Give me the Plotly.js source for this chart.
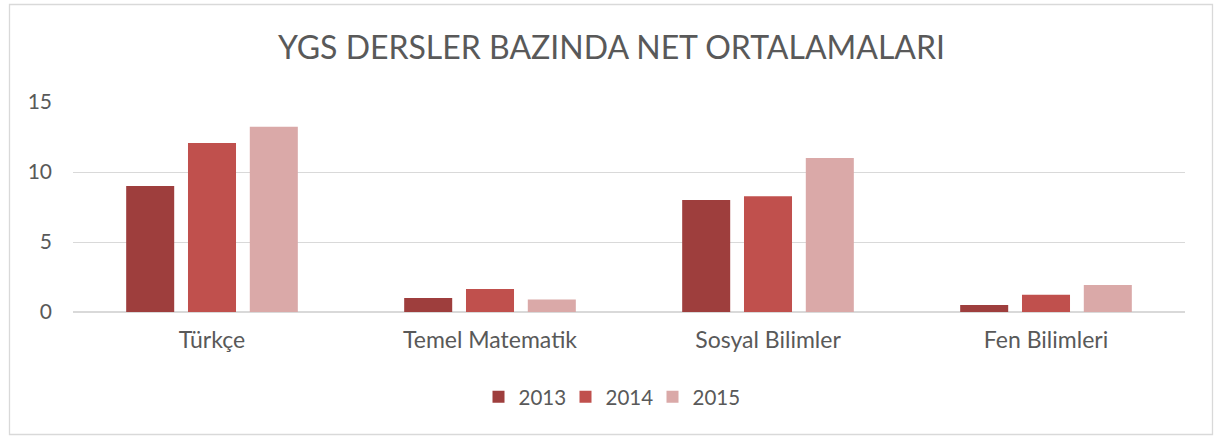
<!DOCTYPE html>
<html>
<head>
<meta charset="utf-8">
<script src="https://cdn.plot.ly/plotly-3.0.1.min.js"></script>
<style>
  html, body { margin: 0; padding: 0; background: #ffffff; }
  #chart { width: 1216px; height: 437px; }
</style>
</head>
<body>
<div id="chart"></div>
<script>
const categories = ["Türkçe", "Temel Matematik", "Sosyal Bilimler", "Fen Bilimleri"];
const seriesNames = ["2013", "2014", "2015"];
const values2013 = [9.0, 1.0, 8.0, 0.5];
const values2014 = [12.07, 1.64, 8.26, 1.24];
const values2015 = [13.24, 0.9, 11.0, 1.93];
const yTicks = [0, 5, 10, 15];

const colors = ["#9E3E3D", "#C0504D", "#DAA9A8"];
const fontFamily = "Lato, 'Open Sans', sans-serif";
const textColor = "#595959";

const W = 1216, H = 437;
const m = { l: 73, r: 31, t: 102, b: 125 };
const pw = W - m.l - m.r, ph = H - m.t - m.b;
function px2x(p) { return (p - m.l) / pw; }
function px2y(p) { return (H - m.b - p) / ph; }

const allValues = [values2013, values2014, values2015];
const traces = allValues.map((vals, i) => ({
  type: "bar",
  name: seriesNames[i],
  x: categories,
  y: vals,
  marker: { color: colors[i], line: { width: 0 } },
  hoverinfo: "x+y+name"
}));

const layout = {
  width: W,
  height: H,
  margin: { l: m.l, r: m.r, t: m.t, b: m.b, pad: 0 },
  paper_bgcolor: "#ffffff",
  plot_bgcolor: "#ffffff",
  font: { family: fontFamily, color: textColor, size: 21 },
  title: {
    text: "YGS DERSLER BAZINDA NET ORTALAMALARI",
    font: { family: fontFamily, size: 32, color: textColor },
    x: 611.5 / W, xref: "container", xanchor: "center",
    y: 1 - 48 / H, yref: "container", yanchor: "middle"
  },
  barmode: "group",
  bargap: 0.333,
  bargroupgap: 0.223,
  xaxis: {
    type: "category",
    automargin: false,
    showgrid: false,
    showline: false,
    zeroline: false,
    ticks: "",
    ticklabelstandoff: 12,
    tickfont: { family: fontFamily, size: 23, color: textColor }
  },
  yaxis: {
    range: [0, 15],
    tickvals: yTicks,
    ticktext: yTicks.map(String),
    automargin: false,
    showgrid: true,
    gridcolor: "#D9D9D9",
    gridwidth: 1,
    zeroline: true,
    zerolinecolor: "#D9D9D9",
    zerolinewidth: 1.5,
    showline: false,
    ticks: "",
    ticklabelstandoff: 20,
    tickfont: { family: fontFamily, size: 21, color: textColor }
  },
  legend: {
    orientation: "h",
    xref: "container", yref: "container",
    x: 609 / W, xanchor: "center",
    y: 1 - 397 / H, yanchor: "middle",
    font: { family: fontFamily, size: 20.5, color: textColor },
    bgcolor: "rgba(0,0,0,0)",
    itemwidth: 30,
    entrywidth: 42,
    traceorder: "normal"
  },
  shapes: [{
    type: "rect",
    xref: "paper", yref: "paper",
    x0: px2x(9.5), x1: px2x(1212.5),
    y0: px2y(434.5), y1: px2y(4.5),
    line: { color: "#D9D9D9", width: 1.3 },
    fillcolor: "rgba(0,0,0,0)",
    layer: "below"
  }],
  showlegend: true
};

Plotly.newPlot("chart", traces, layout, { displayModeBar: false, staticPlot: true });
</script>
</body>
</html>
